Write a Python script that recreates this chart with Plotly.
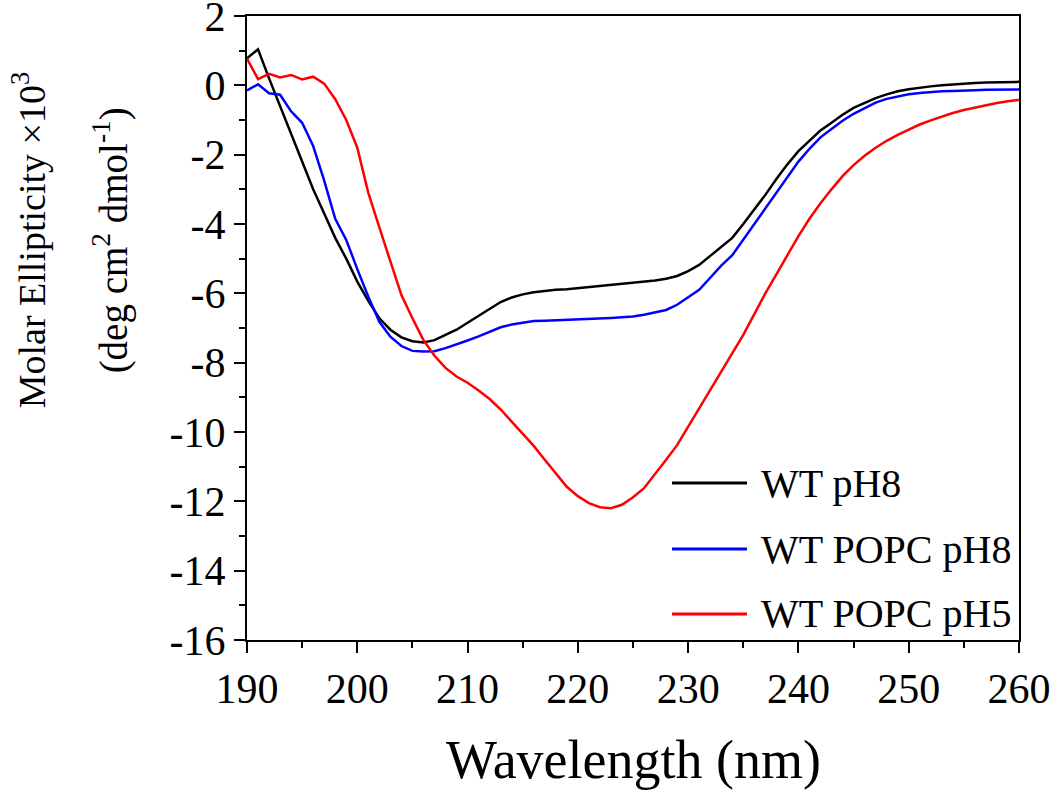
import plotly.graph_objects as go

# CD spectra (molar ellipticity x10^3)
wavelength = list(range(190, 261))

wt_ph8 = [0.78, 1.04, 0.2, -0.6, -1.35, -2.2, -3.0, -3.7, -4.4, -5.0,
          -5.66, -6.22, -6.72, -7.05, -7.27, -7.38, -7.42, -7.35, -7.2, -7.05,
          -6.85, -6.65, -6.45, -6.25, -6.12, -6.03, -5.97, -5.93, -5.9, -5.88,
          -5.85, -5.81, -5.77, -5.74, -5.72, -5.69, -5.66, -5.63, -5.58, -5.5,
          -5.36, -5.18, -4.92, -4.65, -4.4, -4.0, -3.58, -3.16, -2.7, -2.28,
          -1.9, -1.6, -1.3, -1.08, -0.85, -0.65, -0.5, -0.37, -0.26, -0.17,
          -0.11, -0.06, -0.03, 0.0, 0.03, 0.05, 0.07, 0.08, 0.09, 0.09, 0.1]

wt_popc_ph8 = [-0.15, 0.03, -0.23, -0.27, -0.75, -1.08, -1.75, -2.75, -3.85, -4.46,
               -5.3, -6.1, -6.82, -7.25, -7.52, -7.66, -7.68, -7.67, -7.58, -7.48,
               -7.36, -7.24, -7.1, -6.98, -6.9, -6.84, -6.8, -6.79, -6.78, -6.77,
               -6.76, -6.74, -6.72, -6.71, -6.69, -6.67, -6.62, -6.56, -6.48, -6.33,
               -6.12, -5.9, -5.55, -5.2, -4.9, -4.45, -3.98, -3.55, -3.08, -2.62,
               -2.2, -1.83, -1.5, -1.26, -1.02, -0.82, -0.65, -0.5, -0.39, -0.32,
               -0.26, -0.22, -0.19, -0.17, -0.16, -0.14, -0.14, -0.13, -0.13, -0.12, -0.12]

wt_popc_ph5 = [0.77, 0.18, 0.33, 0.23, 0.3, 0.17, 0.25, 0.05, -0.4, -1.0,
               -1.8, -3.1, -4.1, -5.1, -6.05, -6.72, -7.35, -7.8, -8.15, -8.4,
               -8.58, -8.8, -9.05, -9.35, -9.7, -10.05, -10.4, -10.8, -11.2, -11.58,
               -11.85, -12.05, -12.17, -12.2, -12.1, -11.88, -11.62, -11.22, -10.8, -10.38,
               -9.85, -9.35, -8.8, -8.3, -7.75, -7.2, -6.6, -6.0, -5.45, -4.9,
               -4.35, -3.85, -3.4, -3.0, -2.62, -2.3, -2.03, -1.8, -1.6, -1.43,
               -1.28, -1.13, -1.01, -0.9, -0.8, -0.71, -0.64, -0.57, -0.51, -0.46, -0.42]

x_ticks = [190, 200, 210, 220, 230, 240, 250, 260]
y_ticks = [2, 0, -2, -4, -6, -8, -10, -12, -14, -16]
y_ticktext = ["2", "0", "-2", "-4", "-6", "-8", "-10", "-12", "-14", "-16"]

series = [
    ("WT pH8", wt_ph8, "#000000"),
    ("WT POPC pH8", wt_popc_ph8, "#0000ff"),
    ("WT POPC pH5", wt_popc_ph5, "#ff0000"),
]

font = "Liberation Serif, Times New Roman, serif"

fig = go.Figure()
for name, ys, color in series:
    fig.add_trace(go.Scatter(x=wavelength, y=ys, mode="lines", name=name,
                             line=dict(color=color, width=2.5)))

# hand-made legend so the sample lines are long like in the original
legend_rows = [0.2516, 0.1458, 0.0417]
for (name, ys, color), yy in zip(series, legend_rows):
    fig.add_shape(type="line", xref="paper", yref="paper",
                  x0=0.5505, x1=0.6477, y0=yy, y1=yy,
                  line=dict(color=color, width=3))
    fig.add_annotation(xref="paper", yref="paper", x=0.6632, y=yy,
                       text=name, showarrow=False, xanchor="left", yanchor="middle",
                       font=dict(family=font, size=40, color="black"))

# axis titles
fig.add_annotation(xref="paper", yref="paper", x=0.5, y=-0.192,
                   text="Wavelength (nm)", showarrow=False,
                   xanchor="center", yanchor="middle",
                   font=dict(family=font, size=54, color="black"))
fig.add_annotation(xref="paper", yref="paper", x=-0.282, y=0.641,
                   text="Molar Ellipticity ×10<sup>3</sup>", showarrow=False,
                   textangle=-90, xanchor="center", yanchor="middle",
                   font=dict(family=font, size=38, color="black"))
fig.add_annotation(xref="paper", yref="paper", x=-0.177, y=0.641,
                   text="(deg cm<sup>2</sup> dmol<sup>-1</sup>)", showarrow=False,
                   textangle=-90, xanchor="center", yanchor="middle",
                   font=dict(family=font, size=39, color="black"))

axis_style = dict(
    showline=True, linecolor="black", linewidth=2, mirror=True,
    ticks="outside", ticklen=11, tickwidth=2, tickcolor="black",
    showgrid=False, zeroline=False, automargin=False, ticklabeloverflow="allow",
    tickfont=dict(family=font, size=42, color="black"),
)

fig.update_xaxes(range=[190, 260], tickvals=x_ticks,
                 minor=dict(dtick=5, tick0=190, ticks="outside", ticklen=6,
                            tickwidth=2, tickcolor="black"),
                 **axis_style)
fig.update_yaxes(range=[-16, 2], tickvals=y_ticks, ticktext=y_ticktext,
                 minor=dict(dtick=1, tick0=0, ticks="outside", ticklen=6,
                            tickwidth=2, tickcolor="black"),
                 **axis_style)

fig.update_layout(
    width=1050, height=800,
    margin=dict(l=247, r=31, t=16, b=160),
    plot_bgcolor="white", paper_bgcolor="white",
    showlegend=False,
)

# drop the default 8px body margin so the figure sits at the window corner
fig.write_html("out.html", config={"displayModeBar": False},
               post_script="document.body.style.margin='0';")
